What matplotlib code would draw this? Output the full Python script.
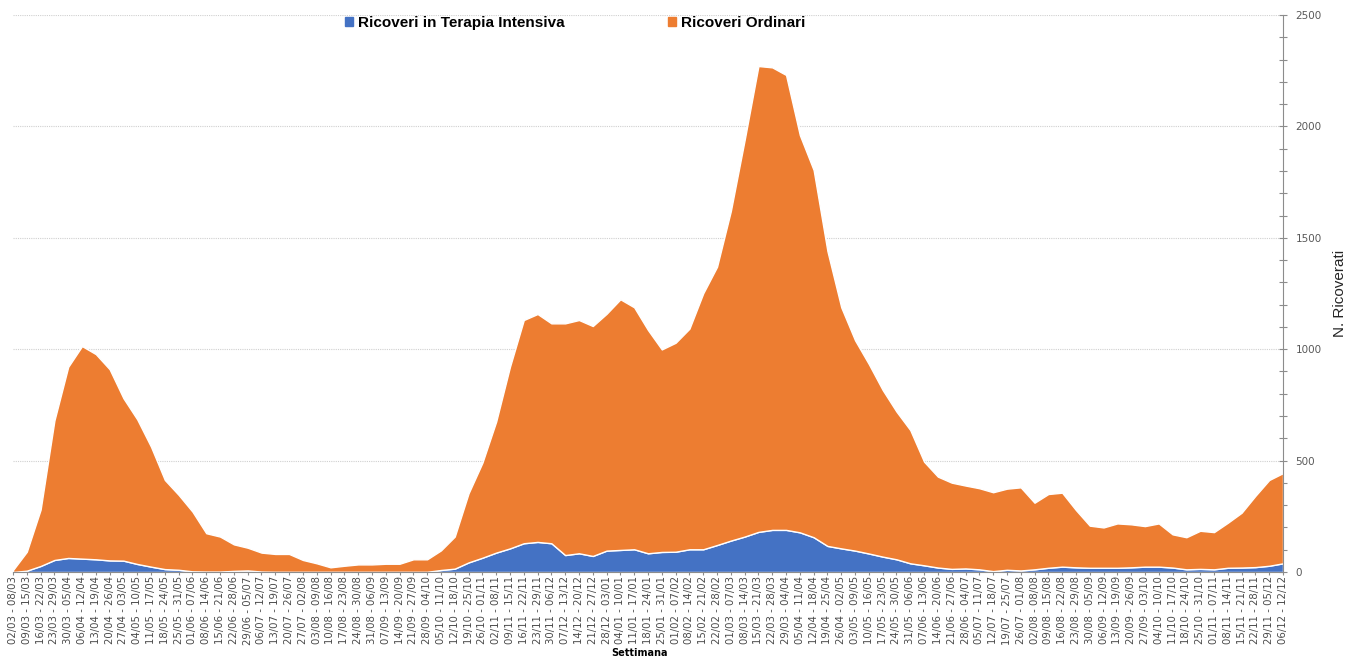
import datetime as dt
import numpy as np
import matplotlib.pyplot as plt
from matplotlib.patches import Patch
from matplotlib.ticker import MultipleLocator

# settimane dal 02/03/2020 al 12/12/2021
inizio = dt.date(2020, 3, 2)
settimane = []
for k in range(93):
    d0 = inizio + dt.timedelta(weeks=k)
    d1 = d0 + dt.timedelta(days=6)
    settimane.append(d0.strftime("%d/%m") + " - " + d1.strftime("%d/%m"))

terapia_intensiva = [0, 6, 27, 54, 63, 60, 57, 52, 51, 36, 24, 13, 10, 3, 2, 2, 5, 7, 2, 1,
                     1, 1, 1, 1, 1, 1, 1, 1, 1, 1, 1, 9, 15, 43, 64, 87, 106, 129, 135, 129,
                     76, 84, 72, 96, 99, 102, 84, 90, 91, 102, 102, 121, 141, 159, 180, 189, 189, 178, 156, 117,
                     106, 96, 83, 69, 57, 39, 30, 20, 14, 16, 12, 4, 10, 7, 12, 19, 24, 21, 19, 19,
                     19, 21, 24, 24, 20, 12, 14, 12, 19, 20, 22, 28, 39]

ordinari = [9, 85, 253, 626, 858, 954, 921, 858, 729, 649, 538, 400, 336, 268, 172, 157, 119, 102, 85, 80,
            80, 53, 38, 20, 27, 33, 33, 36, 36, 56, 56, 88, 144, 310, 426, 588, 815, 1002, 1023, 987,
            1040, 1047, 1032, 1063, 1125, 1086, 1002, 909, 938, 990, 1149, 1249, 1479, 1780, 2091, 2076, 2042, 1783, 1648, 1323,
            1082, 944, 850, 748, 663, 598, 465, 408, 387, 372, 364, 354, 364, 373, 299, 331, 332, 257, 189, 181,
            199, 193, 182, 194, 149, 144, 171, 167, 202, 246, 320, 385, 405]

blu = "#4472C4"
arancio = "#ED7D31"
grigio = "#595959"

x = np.arange(len(settimane))

fig = plt.figure(figsize=(13.45, 6.57), dpi=100)
ax = fig.add_axes([13/1345, 85/657, 1270/1345, 557/657])

ax.stackplot(x, terapia_intensiva, ordinari, colors=[blu, arancio],
             edgecolor="white", linewidth=1.0, zorder=2)

ax.set_xlim(0, len(settimane) - 1)
ax.set_ylim(0, 2500)

ax.yaxis.tick_right()
ax.yaxis.set_label_position("right")
ax.yaxis.set_major_locator(MultipleLocator(500))
ax.yaxis.set_minor_locator(MultipleLocator(100))
ax.tick_params(axis="y", which="both", direction="inout", length=6, width=0.8,
               color="#8c8c8c", labelsize=7.5, labelcolor=grigio, pad=6)
ax.grid(axis="y", which="major", linestyle=(0, (1, 1)), color="#d0d0d0", linewidth=0.8, zorder=0)

ax.set_xticks(x)
ax.set_xticklabels(settimane, rotation=90, fontsize=7.3, color="#4a4a4a")
ax.tick_params(axis="x", direction="out", length=2, color="#8c8c8c", pad=1)

for s in ["left", "top"]:
    ax.spines[s].set_visible(False)
ax.spines["right"].set_color("#8c8c8c")
ax.spines["bottom"].set_color("#8c8c8c")

ax.set_ylabel("N. Ricoverati", fontsize=11, family="Liberation Sans", color="#262626", labelpad=8)
fig.text(640/1345, 1 - 653/657, "Settimana", fontsize=7, fontweight="bold", ha="center", va="center")

maniglie = [Patch(color=blu, label="Ricoveri in Terapia Intensiva"),
            Patch(color=arancio, label="Ricoveri Ordinari")]
fig.legend(handles=maniglie, loc="center", bbox_to_anchor=(575/1345, 1 - 23/657), ncol=2,
           frameon=False, prop={"family": "Liberation Sans", "weight": "bold", "size": 11},
           handlelength=0.55, handleheight=0.55, handletextpad=0.3, columnspacing=6.8)

fig.savefig("out.png", dpi=100)
